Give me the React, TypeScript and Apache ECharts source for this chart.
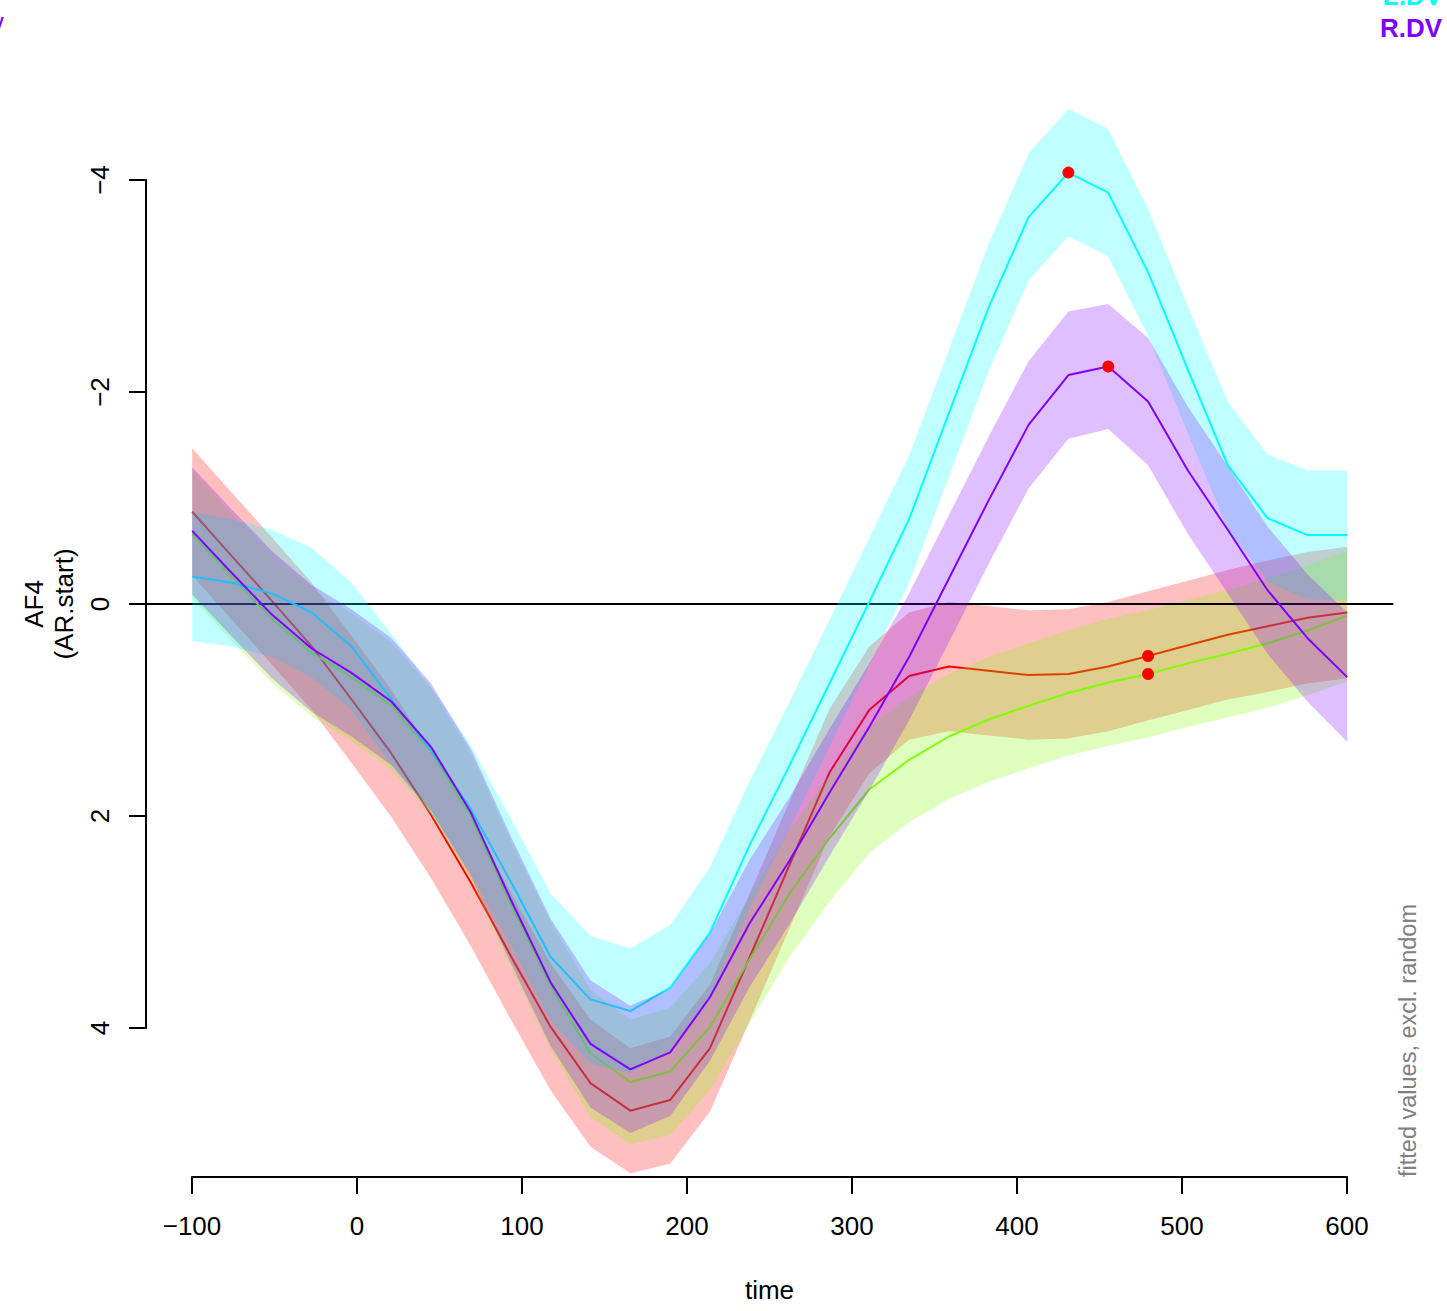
import React, { useEffect, useRef } from "react";
import * as echarts from "echarts";

// time grid (30 evaluation points, -100 .. 600)
const time = [
  -100, -75.86, -51.72, -27.59, -3.45, 20.69, 44.83, 68.97, 93.1, 117.24,
  141.38, 165.52, 189.66, 213.79, 237.93, 262.07, 286.21, 310.34, 334.48, 358.62,
  382.76, 406.9, 431.03, 455.17, 479.31, 503.45, 527.59, 551.72, 575.86, 600,
];

// fitted values per condition
const redFit = [
  -0.87, -0.45, -0.03, 0.4, 0.9, 1.41, 1.99, 2.63, 3.32, 3.99,
  4.52, 4.78, 4.68, 4.19, 3.33, 2.46, 1.59, 1.0, 0.68, 0.59,
  0.63, 0.67, 0.66, 0.59, 0.49, 0.39, 0.29, 0.21, 0.13, 0.08,
];
const greenFit = [
  -0.66, -0.25, 0.14, 0.46, 0.69, 0.96, 1.39, 2.01, 2.83, 3.6,
  4.24, 4.51, 4.41, 3.99, 3.35, 2.73, 2.21, 1.75, 1.47, 1.25,
  1.09, 0.96, 0.84, 0.74, 0.66, 0.56, 0.47, 0.37, 0.25, 0.11,
];
const cyanFit = [
  -0.26, -0.2, -0.1, 0.08, 0.4, 0.9, 1.38, 1.94, 2.62, 3.33,
  3.73, 3.84, 3.62, 3.1, 2.27, 1.52, 0.75, -0.02, -0.8, -1.8,
  -2.8, -3.65, -4.07, -3.88, -3.13, -2.21, -1.31, -0.81, -0.65, -0.65,
];
const purpleFit = [
  -0.69, -0.29, 0.1, 0.42, 0.65, 0.92, 1.35, 1.97, 2.79, 3.57,
  4.15, 4.39, 4.23, 3.71, 3.01, 2.42, 1.78, 1.16, 0.5, -0.24,
  -0.98, -1.69, -2.16, -2.24, -1.91, -1.26, -0.7, -0.13, 0.32, 0.69,
];

// confidence half-widths per condition
const redCI = [
  0.6, 0.6, 0.6, 0.6, 0.6, 0.6, 0.6, 0.6, 0.6, 0.6,
  0.6, 0.59, 0.6, 0.6, 0.6, 0.6, 0.6, 0.6, 0.6, 0.61,
  0.61, 0.61, 0.61, 0.61, 0.61, 0.61, 0.61, 0.62, 0.62, 0.62,
];
const greenCI = [
  0.6, 0.6, 0.6, 0.6, 0.6, 0.6, 0.6, 0.6, 0.6, 0.6,
  0.6, 0.59, 0.6, 0.6, 0.6, 0.6, 0.6, 0.6, 0.59, 0.59,
  0.59, 0.59, 0.59, 0.6, 0.6, 0.6, 0.6, 0.61, 0.61, 0.62,
];
const cyanCI = [
  0.61, 0.6, 0.6, 0.61, 0.6, 0.62, 0.6, 0.6, 0.6, 0.6,
  0.6, 0.59, 0.59, 0.62, 0.6, 0.6, 0.6, 0.6, 0.6, 0.6,
  0.6, 0.6, 0.6, 0.6, 0.6, 0.6, 0.6, 0.6, 0.61, 0.61,
];
const purpleCI = [
  0.6, 0.6, 0.6, 0.6, 0.6, 0.6, 0.6, 0.6, 0.6, 0.6,
  0.6, 0.6, 0.6, 0.6, 0.6, 0.6, 0.6, 0.6, 0.6, 0.6,
  0.6, 0.6, 0.6, 0.59, 0.6, 0.6, 0.6, 0.6, 0.6, 0.61,
];

// indices of marked peaks
const peakIdx = { red: 24, green: 24, cyan: 22, purple: 23 };

const yTicks = [-4, -2, 0, 2, 4];
const xTicks = [-100, 0, 100, 200, 300, 400, 500, 600];
const legendLabels = ["L.DV", "R.DV"];

const FONT = "Liberation Sans, Arial, Helvetica, sans-serif";
const minusFmt = (v: number) => String(v).replace("-", "\u2212");

type Cond = { fit: number[]; ci: number[]; line: string; band: string };
const conds: Cond[] = [
  { fit: redFit, ci: redCI, line: "#FF0000", band: "rgba(255,0,0,0.25)" },
  { fit: greenFit, ci: greenCI, line: "#80FF00", band: "rgba(128,255,0,0.25)" },
  { fit: cyanFit, ci: cyanCI, line: "#00FFFF", band: "rgba(0,255,255,0.25)" },
  { fit: purpleFit, ci: purpleCI, line: "#8000FF", band: "rgba(128,0,255,0.25)" },
];

export default function App() {
  const ref = useRef<HTMLDivElement>(null);

  useEffect(() => {
    if (!ref.current) return;
    const chart = echarts.init(ref.current, null, { renderer: "svg" });

    const series: any[] = [];
    conds.forEach((c, k) => {
      const upper = c.fit.map((v, i) => v - c.ci[i]);
      const lower = c.fit.map((v, i) => v + c.ci[i]);
      series.push({
        type: "custom",
        xAxisIndex: 0,
        yAxisIndex: 0,
        clip: false,
        silent: true,
        z: 2 + 2 * k,
        data: time.map((t, i) => [t, c.fit[i]]),
        renderItem: (params: any, api: any) => {
          if (params.dataIndex !== 0) return null;
          const pts: number[][] = [];
          for (let i = 0; i < time.length; i++) pts.push(api.coord([time[i], upper[i]]));
          for (let i = time.length - 1; i >= 0; i--) pts.push(api.coord([time[i], lower[i]]));
          return {
            type: "polygon",
            shape: { points: pts },
            style: { fill: c.band, stroke: null },
          };
        },
      });
      series.push({
        type: "line",
        xAxisIndex: 0,
        yAxisIndex: 0,
        clip: false,
        silent: true,
        z: 3 + 2 * k,
        showSymbol: false,
        symbol: "none",
        data: time.map((t, i) => [t, c.fit[i]]),
        lineStyle: { color: c.line, width: 2 },
      });
    });

    // zero reference line spanning plot region
    series.push({
      type: "line",
      xAxisIndex: 0,
      yAxisIndex: 0,
      data: [],
      silent: true,
      z: 20,
      markLine: {
        silent: true,
        symbol: "none",
        label: { show: false },
        lineStyle: { color: "#000", width: 2, type: "solid" },
        data: [{ yAxis: 0 }],
      },
    });

    // peak markers
    series.push({
      type: "scatter",
      xAxisIndex: 0,
      yAxisIndex: 0,
      clip: false,
      silent: true,
      symbol: "circle",
      symbolSize: 12,
      itemStyle: { color: "#FF0000", opacity: 1 },
      data: [
        [time[peakIdx.cyan], cyanFit[peakIdx.cyan]],
        [time[peakIdx.purple], purpleFit[peakIdx.purple]],
        [time[peakIdx.red], redFit[peakIdx.red]],
        [time[peakIdx.green], greenFit[peakIdx.green]],
      ],
      z: 21,
    });

    chart.setOption({
      animation: false,
      backgroundColor: "#fff",
      textStyle: { fontFamily: FONT },
      grid: [
        { left: 146, top: 180, width: 1247.4, height: 848, containLabel: false },
        { left: 192, top: 1100, width: 1155, height: 77, containLabel: false },
      ],
      xAxis: [
        { gridIndex: 0, type: "value", min: -128, max: 628, show: false },
        {
          gridIndex: 1,
          type: "value",
          position: "bottom",
          min: xTicks[0],
          max: xTicks[xTicks.length - 1],
          interval: 100,
          splitLine: { show: false },
          axisLine: { show: true, onZero: false, lineStyle: { color: "#000", width: 2 } },
          axisTick: { show: true, length: 17, lineStyle: { color: "#000", width: 2 } },
          axisLabel: {
            show: true,
            fontSize: 26,
            color: "#000",
            fontFamily: FONT,
            margin: 36,
            showMinLabel: true,
            showMaxLabel: true,
            formatter: minusFmt,
          },
          name: "time",
          nameLocation: "middle",
          nameGap: 100,
          nameTextStyle: { fontSize: 26, color: "#000", fontFamily: FONT },
        },
      ],
      yAxis: [
        {
          gridIndex: 0,
          type: "value",
          inverse: true,
          position: "left",
          min: yTicks[0],
          max: yTicks[yTicks.length - 1],
          interval: 2,
          splitLine: { show: false },
          axisLine: { show: true, onZero: false, lineStyle: { color: "#000", width: 2 } },
          axisTick: { show: true, length: 17, lineStyle: { color: "#000", width: 2 } },
          axisLabel: {
            show: true,
            rotate: 90,
            fontSize: 26,
            color: "#000",
            fontFamily: FONT,
            margin: 33,
            showMinLabel: true,
            showMaxLabel: true,
            formatter: minusFmt,
          },
          name: "AF4\n(AR.start)",
          nameLocation: "middle",
          nameRotate: 90,
          nameGap: 65,
          nameTextStyle: { fontSize: 26, lineHeight: 30, color: "#000", fontFamily: FONT },
        },
        { gridIndex: 1, type: "value", show: false, min: 0, max: 1 },
      ],
      series,
      graphic: [
        {
          type: "text",
          x: 1408,
          y: 1177,
          rotation: Math.PI / 2,
          silent: true,
          style: {
            text: "fitted values, excl. random",
            fill: "#808080",
            font: `23.5px ${FONT}`,
            textAlign: "left",
            textVerticalAlign: "middle",
          },
        },
        {
          type: "text",
          x: 1442,
          y: -4,
          silent: true,
          style: {
            text: legendLabels[0],
            fill: "#00FFFF",
            font: `bold 26px ${FONT}`,
            textAlign: "right",
            textVerticalAlign: "middle",
          },
        },
        {
          type: "text",
          x: 1442,
          y: 28,
          silent: true,
          style: {
            text: legendLabels[1],
            fill: "#8000FF",
            font: `bold 26px ${FONT}`,
            textAlign: "right",
            textVerticalAlign: "middle",
          },
        },
        {
          type: "text",
          x: 4,
          y: 23,
          silent: true,
          style: {
            text: "V",
            fill: "#8000FF",
            font: `bold 16px ${FONT}`,
            textAlign: "right",
            textVerticalAlign: "middle",
          },
        },
      ],
    });

    return () => chart.dispose();
  }, []);

  return (
    <div
      ref={ref}
      style={{ position: "absolute", left: 0, top: 0, width: 1447, height: 1311, background: "#fff" }}
    />
  );
}
